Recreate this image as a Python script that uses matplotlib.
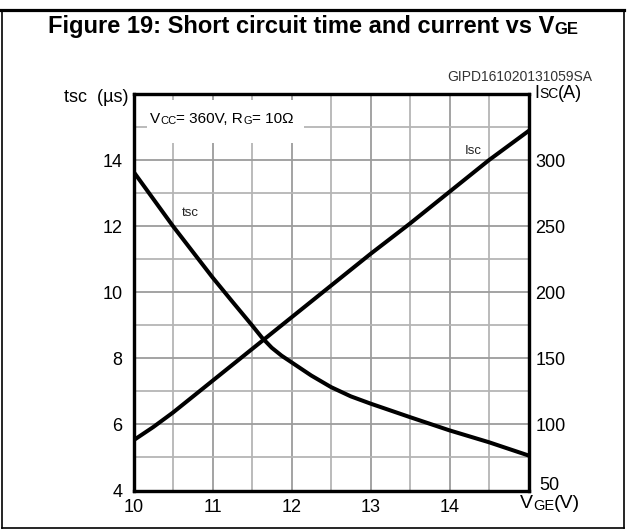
import matplotlib
matplotlib.use("Agg")
import matplotlib.pyplot as plt
from matplotlib.lines import Line2D
from matplotlib.patches import Rectangle

plt.rcParams['font.family'] = ['Liberation Sans', 'DejaVu Sans']

# values
vge_t = [10, 10.5, 11, 11.25, 11.5, 11.625, 11.75, 11.875, 12, 12.25, 12.5, 12.75,
         13, 13.5, 14, 14.5, 15]
tsc = [13.65, 12.0, 10.45, 9.72, 9.0, 8.63, 8.32, 8.08, 7.88, 7.48, 7.13, 6.85,
       6.63, 6.22, 5.82, 5.46, 5.06]

vge_i = [10, 10.25, 10.5, 11, 11.5, 12, 12.5, 13, 13.5, 14, 14.5, 15]
isc = [88, 98, 109, 133, 157, 181, 205, 229, 252, 276, 300, 322]

x_ticks = [10, 11, 12, 13, 14]
tsc_ticks = [4, 6, 8, 10, 12, 14]
isc_ticks = [100, 150, 200, 250, 300]

W, H = 629, 530


def px(x, y):
    # pixel position (from top-left) -> figure fraction
    return x / W, 1 - y / H


def rich(ax, xy, parts, **kw):
    # chain text pieces so the small-cap parts sit on the baseline
    prev = ax.annotate(parts[0][0], xy=xy, xycoords='figure fraction',
                       fontsize=parts[0][1], ha='left', va='center', **kw)
    for s, fs in parts[1:]:
        prev = ax.annotate(s, xy=(1, 0), xycoords=prev, fontsize=fs,
                           ha='left', va='bottom', **kw)
    return prev


fig = plt.figure(figsize=(W / 100, H / 100), dpi=100)
ax = fig.add_axes([133.5 / W, 1 - 490.5 / H, 395 / W, 396.5 / H])
ax2 = ax.twinx()

ax.set_xlim(10, 15)
ax.set_ylim(4, 16)
ax2.set_ylim(50, 350)

ax.set_xticks(x_ticks)
ax.set_xticks([10.5, 11.5, 12.5, 13.5, 14.5], minor=True)
ax.set_yticks(tsc_ticks)
ax.set_yticks([5, 7, 9, 11, 13, 15], minor=True)
ax2.set_yticks(isc_ticks)

ax.grid(which='major', color='#9c9c9c', lw=1.3)
ax.grid(which='minor', color='#b5b5b5', lw=1.3)
ax.set_axisbelow(True)
ax.tick_params(which='both', length=0, labelsize=13)
ax.tick_params(axis='y', pad=8)
ax.tick_params(axis='x', pad=6)
ax2.tick_params(length=0, labelsize=13, pad=5)

for a in (ax, ax2):
    for sp in a.spines.values():
        sp.set_linewidth(2.3)

# white patch behind the test-condition note
ax.add_patch(Rectangle((0.034, 0.876), 0.398, 0.11, transform=ax.transAxes,
                       facecolor='white', edgecolor='none', zorder=1.5))

ax.plot(vge_t, tsc, color='black', lw=2.9, zorder=3, solid_joinstyle='round')
ax2.plot(vge_i, isc, color='black', lw=2.9, zorder=3, solid_joinstyle='round')

# curve labels
ax.text(10.61, 12.39, 'tsc', fontsize=9.5, color='#222222', va='center', zorder=4)
ax2.text(14.19, 307, 'Isc', fontsize=9.5, color='#222222', va='center', zorder=4)

# texts around the plot
fig.text(*px(128, 97), 'tsc  (\u00b5s)', fontsize=13, ha='right', va='center')
rich(ax, px(534, 93), [('I', 13), ('SC', 10), ('(A)', 13)])
rich(ax, px(150, 119), [('V', 11), ('CC', 8), ('= 360V, R', 11), ('G', 8),
                        ('= 10\u03a9', 11)])
rich(ax, px(520, 504), [('V', 14), ('GE', 10.5), ('(V)', 14)])
fig.text(*px(539, 485), '50', fontsize=13, ha='left', va='center')
fig.text(*px(592, 77), 'GIPD161020131059SA', fontsize=10, ha='right',
         va='center', color='#333333')

# title
rich(ax, px(48, 26), [('Figure 19: Short circuit time and current vs V', 17), ('GE', 12)],
     fontweight='bold')

# outer frame
fig.add_artist(Line2D([1 / W, 624 / W], [1 - 9.5 / H] * 2, transform=fig.transFigure,
                      color='black', lw=2.3))
for xs, ys in [([1.5, 1.5], [9.5, 528]), ([624, 624], [9.5, 528]),
               ([1.5, 624], [528, 528])]:
    fig.add_artist(Line2D([x / W for x in xs], [1 - y / H for y in ys],
                          transform=fig.transFigure, color='black', lw=1.2))

fig.savefig('out.png', dpi=100)
